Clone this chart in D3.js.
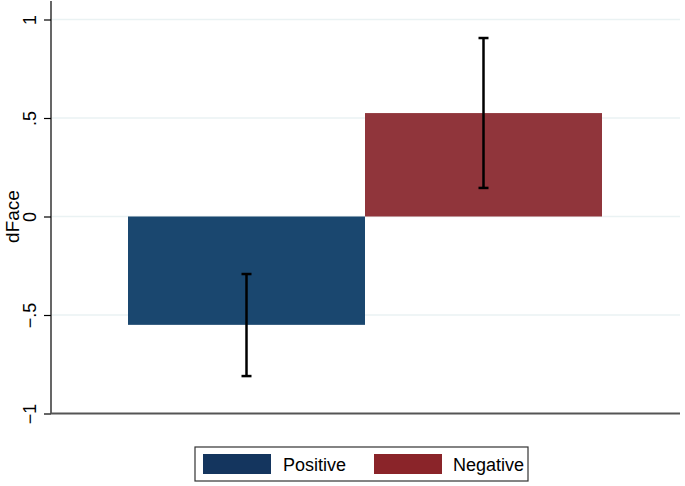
<!DOCTYPE html>
<html><head><meta charset="utf-8">
<script src="https://cdn.jsdelivr.net/npm/d3@7"></script>
<style>body{margin:0;background:#fff}svg{display:block}text{font-family:"Liberation Sans",Arial,Helvetica,sans-serif}</style>
</head><body><svg id="c" width="685" height="486"></svg>
<script>
const categories = ["Positive", "Negative"];
const means = [-0.55, 0.525];
const ciLow = [-0.81, 0.145];
const ciHigh = [-0.292, 0.906];
const yTicks = [-1, -0.5, 0, 0.5, 1];
const yTickLabels = ["\u22121", "\u2212.5", "0", ".5", "1"];
const barColors = ["#1a476f", "#90353b"];
const legendColors = ["#14355e", "#8a2429"];

(function () {
const svg = d3.select("#c");
const W = 685, H = 486;
const pLeft = 51, pRight = 680, pTop = 1, pBottom = 413.5;
const y = d3.scaleLinear().domain([-1, 1]).range([413.5, 19.5]);
const x = d3.scaleBand().domain(categories).range([128, 602]).padding(0);

svg.append("rect").attr("width", W).attr("height", H).attr("fill", "#fff");

// gridlines
svg.append("g").selectAll("line").data(yTicks.filter(t => t !== -1)).join("line")
  .attr("x1", pLeft + 1).attr("x2", pRight)
  .attr("y1", d => y(d)).attr("y2", d => y(d))
  .attr("stroke", "#eaf2f3").attr("stroke-width", 1.5);

// bars
svg.append("g").selectAll("rect").data(categories).join("rect")
  .attr("x", d => x(d)).attr("width", x.bandwidth())
  .attr("y", (d, i) => y(Math.max(0, means[i])))
  .attr("height", (d, i) => Math.abs(y(means[i]) - y(0)))
  .attr("fill", (d, i) => barColors[i]);

// error bars
const eg = svg.append("g").attr("stroke", "#000").attr("stroke-width", 2.5);
categories.forEach((c, i) => {
  const cx = x(c) + x.bandwidth() / 2;
  eg.append("line").attr("x1", cx).attr("x2", cx).attr("y1", y(ciLow[i])).attr("y2", y(ciHigh[i]));
  [ciLow[i], ciHigh[i]].forEach(v => {
    eg.append("line").attr("x1", cx - 5).attr("x2", cx + 5).attr("y1", y(v)).attr("y2", y(v));
  });
});

// y axis
const yAxis = d3.axisLeft(y).tickValues(yTicks).tickSize(7).tickFormat((d, i) => yTickLabels[i]);
const ga = svg.append("g").attr("transform", `translate(${pLeft},0)`).call(yAxis);
ga.select(".domain").remove();
ga.selectAll(".tick line").attr("stroke", "#000").attr("stroke-width", 1.2);
ga.selectAll(".tick text")
  .attr("transform", "translate(-21,0) rotate(-90)")
  .attr("x", 0).attr("y", 0).attr("dy", "0.35em")
  .attr("text-anchor", "middle").attr("font-size", 18).attr("fill", "#000");
svg.append("line").attr("x1", pLeft).attr("x2", pLeft).attr("y1", pTop).attr("y2", pBottom)
  .attr("stroke", "#000").attr("stroke-width", 1.2);
// x axis line
svg.append("line").attr("x1", pLeft).attr("x2", pRight).attr("y1", pBottom).attr("y2", pBottom)
  .attr("stroke", "#555").attr("stroke-width", 1.8);

// y title
svg.append("text").attr("transform", `translate(12,${y(0)}) rotate(-90)`)
  .attr("text-anchor", "middle").attr("dy", "0.35em").attr("font-size", 19).attr("fill", "#000").text("dFace");

// legend
const lg = svg.append("g");
lg.append("rect").attr("x", 195).attr("y", 447).attr("width", 333).attr("height", 34)
  .attr("fill", "#fff").attr("stroke", "#333").attr("stroke-width", 1.2);
const items = [{sx: 203, tx: 283}, {sx: 374, tx: 453}];
categories.forEach((c, i) => {
  lg.append("rect").attr("x", items[i].sx).attr("y", 454).attr("width", 68).attr("height", 20).attr("fill", legendColors[i]);
  lg.append("text").attr("x", items[i].tx).attr("y", 471).attr("font-size", 18).attr("fill", "#000").text(c);
});
})();
</script></body></html>
